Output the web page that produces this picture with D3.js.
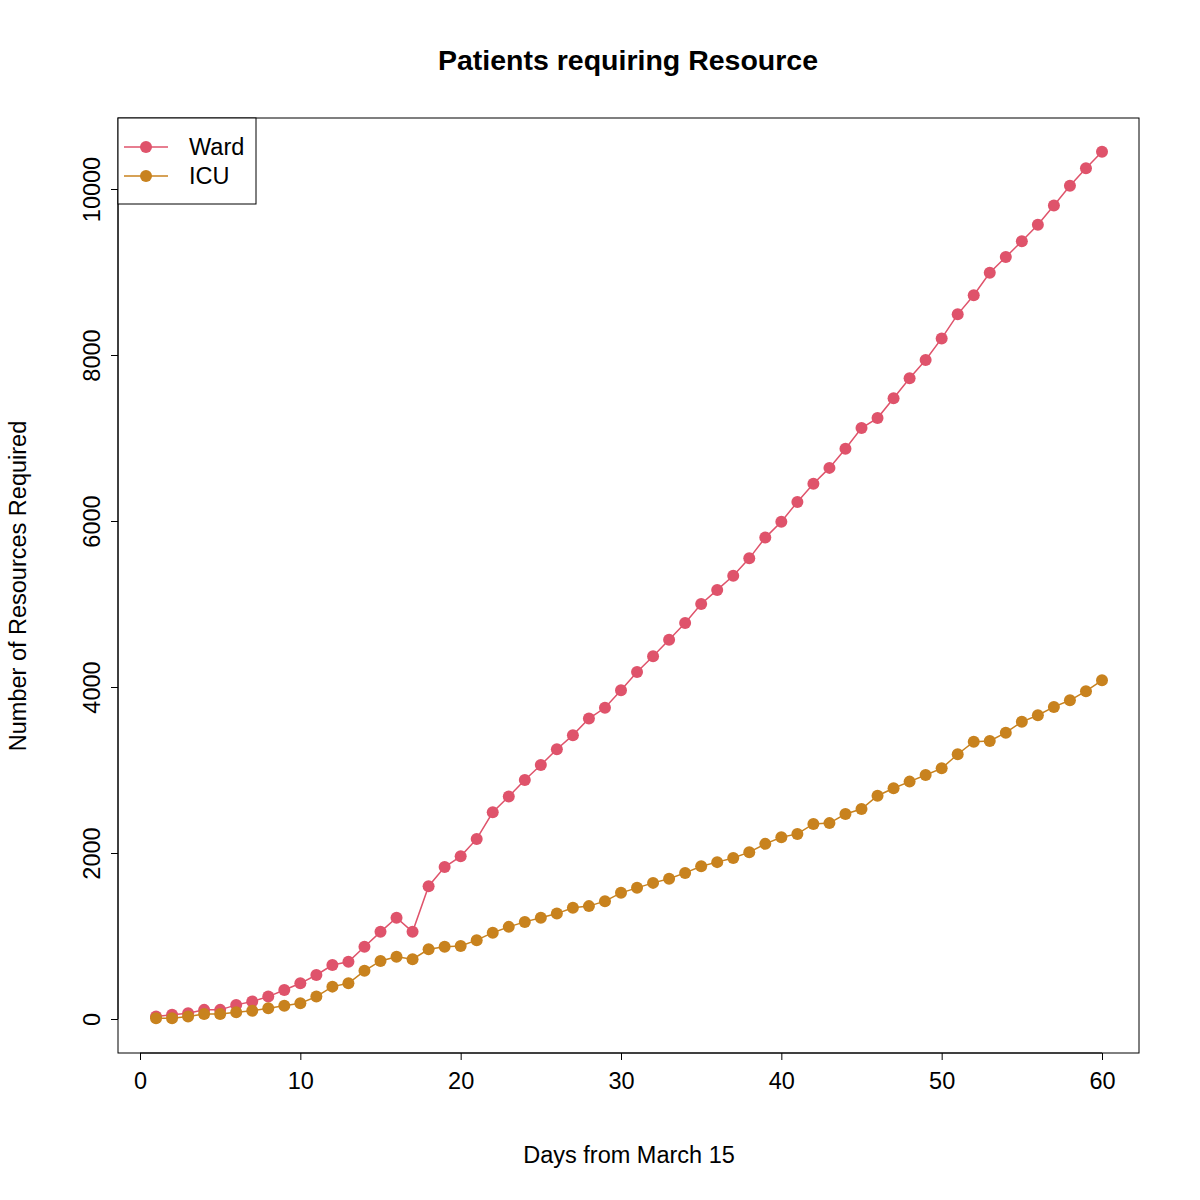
<!DOCTYPE html>
<html><head><meta charset="utf-8">
<script src="https://cdn.jsdelivr.net/npm/d3@7"></script>
<style>body{margin:0;background:#fff}text{font-family:"Liberation Sans",Arial,sans-serif}</style>
</head><body><svg id="c" width="1200" height="1200"></svg>
<script>
const days = d3.range(1, 61);
const ward = [30,50,70,110,110,170,210,270,350,430,530,650,690,870,1050,1220,1050,1600,1830,1960,2170,2490,2680,2880,3060,3250,3420,3620,3750,3960,4180,4370,4570,4770,5000,5170,5340,5550,5800,5990,6230,6450,6640,6870,7120,7240,7480,7720,7940,8200,8490,8720,8990,9180,9370,9570,9800,10040,10250,10450];
const icu = [10,10,30,60,60,80,100,130,160,190,270,390,430,580,700,750,720,840,870,880,950,1040,1110,1170,1220,1270,1340,1360,1420,1520,1580,1640,1690,1760,1840,1890,1940,2010,2110,2190,2230,2350,2360,2470,2530,2690,2780,2860,2940,3020,3190,3340,3350,3450,3580,3660,3760,3840,3950,4080];
const xTicks = [0,10,20,30,40,50,60];
const yTicks = [0,2000,4000,6000,8000,10000];
const series = [{name:"Ward", values:ward, color:"#DF536B"},{name:"ICU", values:icu, color:"#C8821E"}];

const svg = d3.select("#c");
const x = d3.scaleLinear().domain([0,60]).range([140,1102]);
const y = d3.scaleLinear().domain([0,10000]).range([1019,189]);
const L=118,R=1139,T=118,B=1053;
const FS = 23.5;

svg.append("rect").attr("x",L).attr("y",T).attr("width",R-L).attr("height",B-T).attr("fill","none").attr("stroke","#000");

const xa = svg.append("g").attr("transform",`translate(0,${B})`)
  .call(d3.axisBottom(x).tickValues(xTicks).tickFormat(d3.format("d")).tickSize(7).tickPadding(12));
xa.select(".domain").attr("d",`M${x(0)},0H${x(60)}`);
const ya = svg.append("g").attr("transform",`translate(${L},0)`)
  .call(d3.axisLeft(y).tickValues(yTicks).tickFormat(d3.format("d")).tickSize(7));
ya.select(".domain").attr("d",`M0,${y(0)}V${y(10000)}`);
ya.selectAll(".tick text").attr("transform","rotate(-90)").attr("x",0).attr("y",-18).attr("text-anchor","middle").attr("dy","0");
svg.selectAll(".tick text").attr("font-size",FS).attr("font-family","Liberation Sans, Arial, sans-serif").attr("fill","#000");
svg.selectAll(".tick line, .domain").attr("stroke","#000");

series.forEach(s=>{
  svg.append("path").datum(s.values).attr("fill","none").attr("stroke",s.color).attr("stroke-width",1.5)
    .attr("d",d3.line().x((d,i)=>x(days[i])).y(d=>y(d)));
  svg.append("g").selectAll("circle").data(s.values).join("circle")
    .attr("cx",(d,i)=>x(days[i])).attr("cy",d=>y(d)).attr("r",6).attr("fill",s.color);
});

svg.append("text").attr("x",628).attr("y",70).attr("text-anchor","middle").attr("font-size",28.5).attr("font-weight","bold").text("Patients requiring Resource");
svg.append("text").attr("x",629).attr("y",1163).attr("text-anchor","middle").attr("font-size",FS).text("Days from March 15");
svg.append("text").attr("transform","translate(26,586) rotate(-90)").attr("text-anchor","middle").attr("font-size",FS).text("Number of Resources Required");

const lg = svg.append("g");
lg.append("rect").attr("x",118).attr("y",118).attr("width",138).attr("height",86).attr("fill","#fff").attr("stroke","#000");
series.forEach((s,i)=>{
  const yy = 147 + i*29;
  lg.append("line").attr("x1",124).attr("x2",168).attr("y1",yy).attr("y2",yy).attr("stroke",s.color).attr("stroke-width",1.5);
  lg.append("circle").attr("cx",146).attr("cy",yy).attr("r",6).attr("fill",s.color);
  lg.append("text").attr("x",189).attr("y",yy+8).attr("font-size",FS).text(s.name);
});
</script></body></html>
